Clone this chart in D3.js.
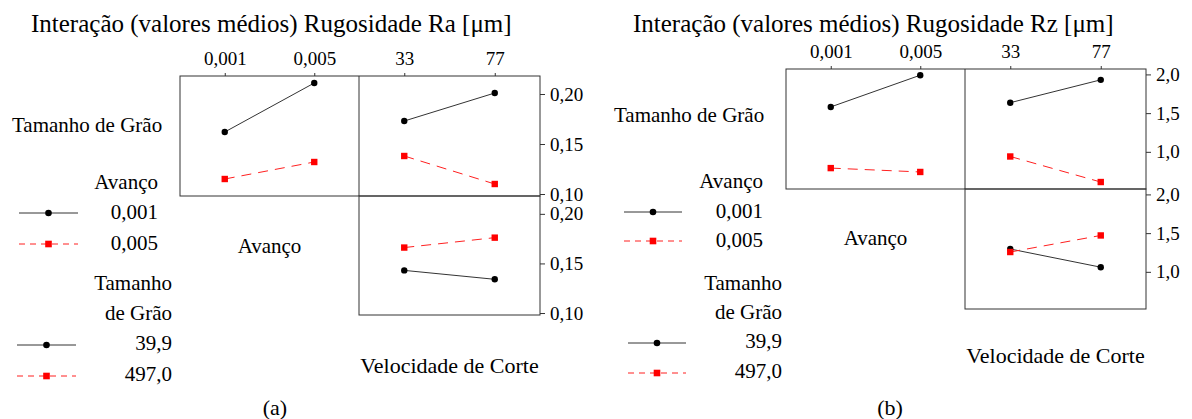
<!DOCTYPE html>
<html>
<head>
<meta charset="utf-8">
<script src="https://cdn.jsdelivr.net/npm/d3@7"></script>
</head>
<body style="margin:0">
<svg id="chart" width="1192" height="419"></svg>
<script>
// levels of each factor
var avancoLevels = ["0,001", "0,005"];
var velocLevels = ["33", "77"];
var graoLevels = ["39,9", "497,0"];

// (a) Ra means
var raGrao399ByAvanco = [0.162, 0.211];
var raGrao497ByAvanco = [0.115, 0.132];
var raGrao399ByVeloc = [0.173, 0.201];
var raGrao497ByVeloc = [0.138, 0.110];
var raAv001ByVeloc = [0.143, 0.134];
var raAv005ByVeloc = [0.166, 0.176];
var raTicks = [0.10, 0.15, 0.20];

// (b) Rz means
var rzGrao399ByAvanco = [1.58, 1.99];
var rzGrao497ByAvanco = [0.79, 0.74];
var rzGrao399ByVeloc = [1.635, 1.93];
var rzGrao497ByVeloc = [0.94, 0.61];
var rzAv001ByVeloc = [1.295, 1.06];
var rzAv005ByVeloc = [1.256, 1.47];
var rzTicks = [1.0, 1.5, 2.0];

var serif = "'Liberation Serif'";
var ptLocale = d3.formatLocale({decimal: ",", thousands: ".", grouping: [3], currency: ["", ""]});

var svg = d3.select("#chart");

function txt(sel, x, y, size, anchor, t) {
  return sel.append("text")
    .attr("x", x).attr("y", y)
    .attr("font-family", serif)
    .attr("font-size", size)
    .attr("text-anchor", anchor)
    .attr("fill", "#000")
    .text(t);
}

function drawPanel(p) {
  var g = svg.append("g");

  txt(g, p.titleX, 32, 25, "start", p.title);

  var xLeft = d3.scalePoint().domain(avancoLevels).range([p.left, p.mid]).padding(0.5);
  var xRight = d3.scalePoint().domain(velocLevels).range([p.mid, p.right]).padding(0.5);
  var yTop = d3.scaleLinear().domain(p.domain).range([p.rowMid, p.top]);
  var yBot = d3.scaleLinear().domain(p.domain).range([p.bottom, p.rowMid]);
  var fmt = ptLocale.format(p.fmt);

  function styleAxis(a) {
    a.attr("font-family", serif).attr("font-size", 19);
    a.select(".domain").remove();
    a.selectAll("line").attr("stroke", "#333");
    a.selectAll("text").attr("fill", "#000");
  }

  // top axes
  g.append("g")
    .attr("transform", "translate(0," + p.top + ")")
    .call(d3.axisTop(xLeft).tickSize(3).tickPadding(8))
    .call(styleAxis);
  g.append("g")
    .attr("transform", "translate(0," + p.top + ")")
    .call(d3.axisTop(xRight).tickSize(3).tickPadding(8))
    .call(styleAxis);

  // right axes
  g.append("g")
    .attr("transform", "translate(" + p.right + ",0)")
    .call(d3.axisRight(yTop).tickValues(p.ticks).tickFormat(fmt).tickSize(5).tickPadding(p.tickPad))
    .call(styleAxis);
  g.append("g")
    .attr("transform", "translate(" + p.right + ",0)")
    .call(d3.axisRight(yBot).tickValues(p.ticks).tickFormat(fmt).tickSize(5).tickPadding(p.tickPad))
    .call(styleAxis);

  // frames
  g.append("rect")
    .attr("x", p.left).attr("y", p.top)
    .attr("width", p.right - p.left).attr("height", p.rowMid - p.top)
    .attr("fill", "none").attr("stroke", "#333");
  g.append("line")
    .attr("x1", p.mid).attr("x2", p.mid).attr("y1", p.top).attr("y2", p.rowMid)
    .attr("stroke", "#333");
  g.append("rect")
    .attr("x", p.mid).attr("y", p.rowMid)
    .attr("width", p.right - p.mid).attr("height", p.bottom - p.rowMid)
    .attr("fill", "none").attr("stroke", "#333");

  // series
  function series(xs, ys, levels, vals, red) {
    var pts = levels.map(function(l, i) { return [xs(l), ys(vals[i])]; });
    g.append("path")
      .attr("d", d3.line()(pts))
      .attr("fill", "none")
      .attr("stroke", red ? "#ff2020" : "#333")
      .attr("stroke-width", 1)
      .attr("stroke-dasharray", red ? "10,7" : null);
    if (red) {
      g.selectAll(null).data(pts).enter().append("rect")
        .attr("x", function(d) { return d[0] - 3.2; })
        .attr("y", function(d) { return d[1] - 3.2; })
        .attr("width", 6.4).attr("height", 6.4)
        .attr("fill", "#f00");
    } else {
      g.selectAll(null).data(pts).enter().append("circle")
        .attr("cx", function(d) { return d[0]; })
        .attr("cy", function(d) { return d[1]; })
        .attr("r", 3.2).attr("fill", "#000");
    }
  }
  series(xLeft, yTop, avancoLevels, p.g399a, false);
  series(xLeft, yTop, avancoLevels, p.g497a, true);
  series(xRight, yTop, velocLevels, p.g399v, false);
  series(xRight, yTop, velocLevels, p.g497v, true);
  series(xRight, yBot, velocLevels, p.av001, false);
  series(xRight, yBot, velocLevels, p.av005, true);

  // row / column labels
  txt(g, p.rowLabelX, p.rowLabelY, 21, "start", "Tamanho de Grão");
  txt(g, (p.left + p.mid) / 2, p.avLabelY, 21, "middle", "Avanço");
  txt(g, (p.mid + p.right) / 2, p.velLabelY, 22, "middle", "Velocidade de Corte");
  txt(g, p.capX, 415, 22, "middle", p.caption);

  // legend
  function legendItem(x0, x1, y, red) {
    g.append("line")
      .attr("x1", x0).attr("x2", x1).attr("y1", y).attr("y2", y)
      .attr("stroke", red ? "#ff2020" : "#333")
      .attr("stroke-dasharray", red ? "6,5" : null);
    var cx = (x0 + x1) / 2;
    if (red) {
      g.append("rect").attr("x", cx - 3.3).attr("y", y - 3.3)
        .attr("width", 6.6).attr("height", 6.6).attr("fill", "#f00");
    } else {
      g.append("circle").attr("cx", cx).attr("cy", y).attr("r", 3.3).attr("fill", "#000");
    }
  }
  var L = p.legend;
  txt(g, L.r1, L.av[0], 21, "end", "Avanço");
  txt(g, L.r1, L.av[1], 21, "end", avancoLevels[0]);
  txt(g, L.r1, L.av[2], 21, "end", avancoLevels[1]);
  legendItem(L.l1[0], L.l1[1], L.av[1] - 6, false);
  legendItem(L.l1[0], L.l1[1], L.av[2] - 6, true);
  txt(g, L.r2, L.gr[0], 21, "end", "Tamanho");
  txt(g, L.r2, L.gr[1], 21, "end", "de Grão");
  txt(g, L.r2, L.gr[2], 21, "end", graoLevels[0]);
  txt(g, L.r2, L.gr[3], 21, "end", graoLevels[1]);
  legendItem(L.l2[0], L.l2[1], L.gr[2] - 5, false);
  legendItem(L.l2[0], L.l2[1], L.gr[3] - 5, true);
}

drawPanel({
  title: "Interação (valores médios) Rugosidade Ra [μm]", titleX: 31,
  left: 180, mid: 359, right: 540, top: 76, rowMid: 196, bottom: 315,
  domain: [0.098, 0.218], ticks: raTicks, fmt: ".2f", tickPad: 5,
  g399a: raGrao399ByAvanco, g497a: raGrao497ByAvanco,
  g399v: raGrao399ByVeloc, g497v: raGrao497ByVeloc,
  av001: raAv001ByVeloc, av005: raAv005ByVeloc,
  rowLabelX: 12, rowLabelY: 132, avLabelY: 253, velLabelY: 373,
  caption: "(a)", capX: 275,
  legend: { r1: 158, av: [189, 219, 250], l1: [19, 78],
            r2: 172, gr: [290, 320, 350, 381], l2: [17, 76] }
});

drawPanel({
  title: "Interação (valores médios) Rugosidade Rz [μm]", titleX: 633,
  left: 786, mid: 965, right: 1146, top: 69, rowMid: 189, bottom: 309,
  domain: [0.52, 2.07], ticks: rzTicks, fmt: ".1f", tickPad: 5,
  g399a: rzGrao399ByAvanco, g497a: rzGrao497ByAvanco,
  g399v: rzGrao399ByVeloc, g497v: rzGrao497ByVeloc,
  av001: rzAv001ByVeloc, av005: rzAv005ByVeloc,
  rowLabelX: 614, rowLabelY: 122, avLabelY: 245, velLabelY: 363,
  caption: "(b)", capX: 890,
  legend: { r1: 763, av: [188, 218, 247], l1: [624, 682],
            r2: 782, gr: [290, 319, 348, 378], l2: [628, 686] }
});
</script>
</body>
</html>
